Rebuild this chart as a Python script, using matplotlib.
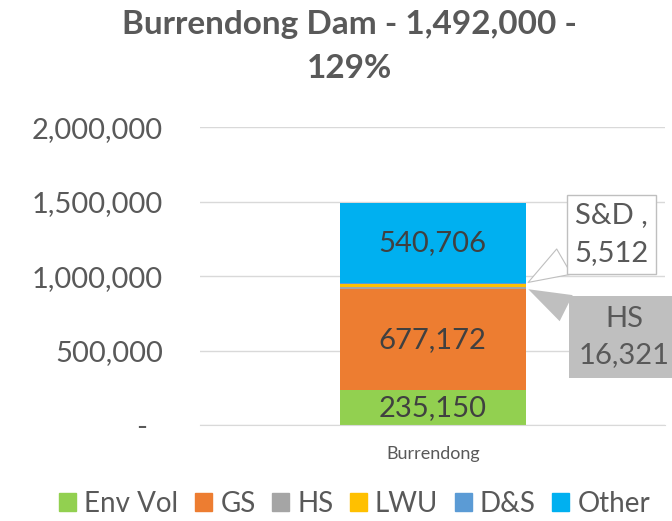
import matplotlib.pyplot as plt
import matplotlib.ticker as mticker
from matplotlib.patches import Patch

plt.rcParams['font.family'] = ['Lato', 'DejaVu Sans']

category = ['Burrendong']
series = ['Env Vol', 'GS', 'HS', 'LWU', 'D&S', 'Other']
values = [235150, 677172, 16321, 17139, 5512, 540706]
colors = ['#92D050', '#ED7D31', '#A5A5A5', '#FFC000', '#5B9BD5', '#00B0F0']
title = 'Burrendong Dam - 1,492,000 -\n129%'

fig = plt.figure(figsize=(6.72, 5.21), dpi=100)
ax = fig.add_axes([0.298, 0.184, 0.692, 0.572])

bottom = 0
bottoms = []
for name, v, c in zip(series, values, colors):
    ax.bar(0, v, width=0.4, bottom=bottom, color=c, label=name)
    bottoms.append(bottom)
    bottom += v

# labels inside the big segments
for i in [0, 1, 5]:
    ax.text(0, bottoms[i] + values[i] / 2, f'{values[i]:,}', ha='center', va='center',
            fontsize=21, color='#404040')

# callouts for the thin segments
ax.annotate(f'S&D ,\n{values[4]:,}', xy=(0.2, bottoms[4] + values[4] / 2),
            xytext=(0.884, 0.641), textcoords='axes fraction', ha='center', va='center',
            fontsize=21, color='#595959', linespacing=1.6,
            bbox=dict(boxstyle='square,pad=0.25', fc='white', ec='#BFBFBF', lw=1),
            arrowprops=dict(arrowstyle='wedge,tail_width=1.0', fc='white', ec='#BFBFBF', lw=0.8))
ax.annotate(f'HS\n{values[2]:,}', xy=(0.2, bottoms[2] + values[2] / 2),
            xytext=(0.912, 0.295), textcoords='axes fraction', ha='center', va='center',
            fontsize=21, color='#595959', linespacing=1.45,
            bbox=dict(boxstyle='square,pad=0.35', fc='#BFBFBF', ec='none'),
            arrowprops=dict(arrowstyle='wedge,tail_width=1.0', fc='#BFBFBF', ec='none'),
            annotation_clip=False)

ax.set_xlim(-0.5, 0.5)
ax.set_ylim(0, 2000000)
ax.set_xticks([0])
ax.set_xticklabels(category, fontsize=13, color='#595959')
ax.yaxis.set_major_locator(mticker.MultipleLocator(500000))
ax.yaxis.set_major_formatter(mticker.FuncFormatter(
    lambda v, p: '-  ' if v == 0 else f'{int(v):,}'))
ax.tick_params(axis='y', labelsize=21, labelcolor='#595959', length=0, pad=27)
ax.tick_params(axis='x', length=0, pad=15)
ax.grid(axis='y', color='#D9D9D9', lw=1)
ax.set_axisbelow(True)
for s in ['top', 'right', 'left']:
    ax.spines[s].set_visible(False)
ax.spines['bottom'].set_color('#D9D9D9')

fig.suptitle(title, x=0.52, y=0.98, fontsize=24, fontweight='bold', color='#595959',
             linespacing=1.6)

handles = [Patch(color=c, label=n) for n, c in zip(series, colors)]
fig.legend(handles=handles, loc='lower center', bbox_to_anchor=(0.528, -0.04), ncol=6,
           frameon=False, fontsize=20, handlelength=0.6, handleheight=0.6,
           handletextpad=0.3, columnspacing=0.6, labelcolor='#595959')

fig.savefig('out.png', dpi=100)
